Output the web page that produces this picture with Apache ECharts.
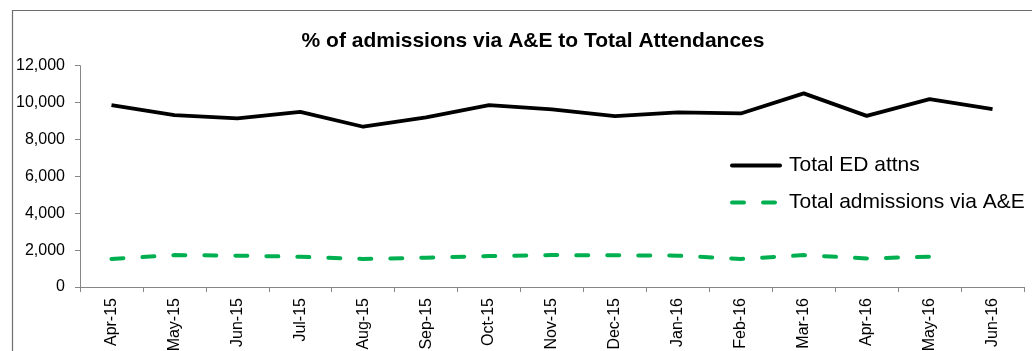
<!DOCTYPE html>
<html>
<head>
<meta charset="utf-8">
<script src="https://cdn.jsdelivr.net/npm/echarts@6/dist/echarts.min.js"></script>
<style>
  html, body { margin: 0; padding: 0; background: #fff; }
  #chart { width: 1032px; height: 351px; }
</style>
</head>
<body>
<div id="chart"></div>
<script>
// Monthly categories
const months = ['Apr-15','May-15','Jun-15','Jul-15','Aug-15','Sep-15','Oct-15','Nov-15',
                'Dec-15','Jan-16','Feb-16','Mar-16','Apr-16','May-16','Jun-16'];

// Total ED attendances per month
const edAttendances = [9860, 9320, 9140, 9500, 8690, 9200, 9860, 9630,
                       9270, 9470, 9410, 10500, 9280, 10190, 9650];

// Total admissions via A&E per month (no figure yet for Jun-16)
const admissionsViaAE = [1520, 1730, 1700, 1640, 1520, 1590, 1680, 1730,
                         1720, 1700, 1520, 1730, 1550, 1640, null];

// Value axis ticks
const yMin = 0, yMax = 12000, yStep = 2000;

const chart = echarts.init(document.getElementById('chart'));
const font = 'Liberation Sans, Arial, sans-serif';

chart.setOption({
  animation: false,
  backgroundColor: '#fff',
  title: {
    text: '% of admissions via A&E to Total Attendances',
    left: 528, top: 26, textAlign: 'center',
    textStyle: { fontFamily: font, fontSize: 21, fontWeight: 'bold', color: '#000' }
  },
  graphic: [{
    type: 'rect', z: -1,
    shape: { x: 12.5, y: 10.5, width: 1100, height: 400 },
    style: { fill: 'none', stroke: '#6e6e6e', lineWidth: 1.2 }
  }],
  legend: {
    orient: 'vertical', left: 725, top: 150,
    itemWidth: 48, itemHeight: 14, itemGap: 16,
    itemStyle: { opacity: 0 },
    lineStyle: { width: 4, cap: 'round' },
    textStyle: { fontFamily: font, fontSize: 21, color: '#000', padding: [0, 0, 0, 4] },
    data: ['Total ED attns', 'Total admissions via A&E']
  },
  grid: { left: 80, right: 8, top: 65.7, bottom: 64, containLabel: false, outerBoundsMode: 'none' },
  xAxis: {
    type: 'category', data: months, boundaryGap: true,
    axisLine: { lineStyle: { color: '#868686', width: 1 } },
    axisTick: { show: true, length: 5, lineStyle: { color: '#868686' } },
    axisLabel: { rotate: 90, margin: 11, fontFamily: font, fontSize: 16, color: '#000' }
  },
  yAxis: {
    type: 'value', min: yMin, max: yMax, interval: yStep,
    splitLine: { show: false },
    axisLine: { show: true, lineStyle: { color: '#868686', width: 1 } },
    axisTick: { show: true, inside: false, length: 5, lineStyle: { color: '#868686' } },
    axisLabel: {
      margin: 15, fontFamily: font, fontSize: 16, color: '#000',
      formatter: v => v.toLocaleString('en-US')
    }
  },
  series: [
    {
      name: 'Total ED attns', type: 'line', data: edAttendances,
      symbol: 'none', color: '#000',
      lineStyle: { color: '#000', width: 3.8, join: 'round' }
    },
    {
      name: 'Total admissions via A&E', type: 'line', data: admissionsViaAE,
      symbol: 'none', color: '#00b050', connectNulls: false,
      lineStyle: { color: '#00b050', width: 4, type: [12, 19], cap: 'round' }
    }
  ]
});
</script>
</body>
</html>
